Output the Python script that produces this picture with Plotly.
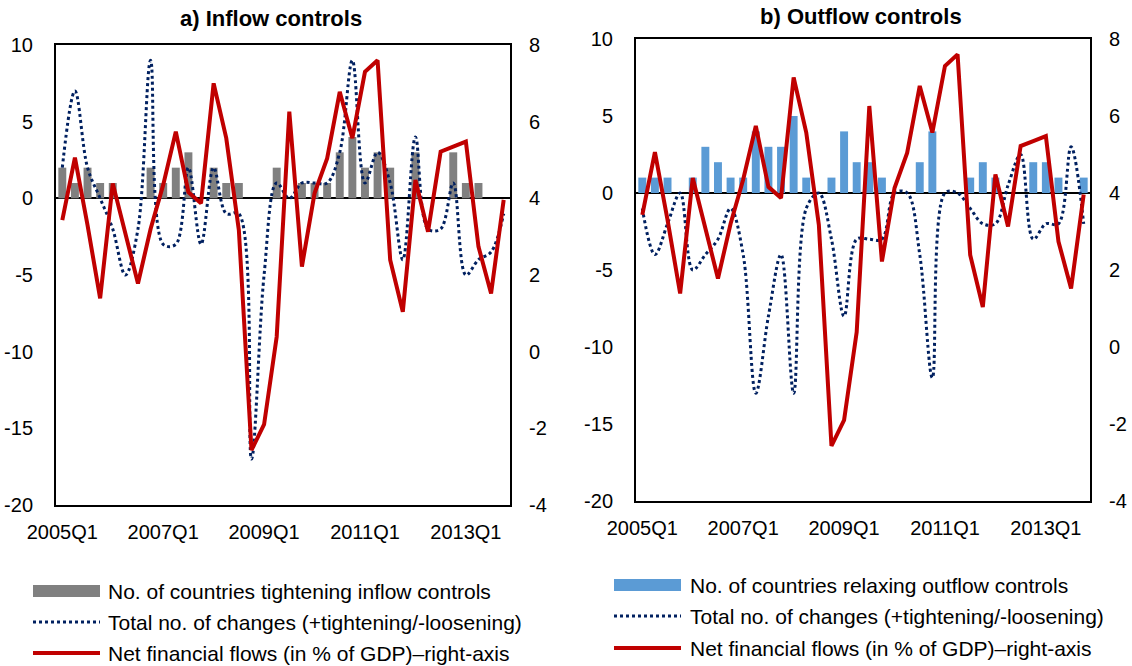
import plotly.graph_objects as go

# ---------------- data ----------------
quarters = [f"{y}Q{q}" for y in range(2005, 2014) for q in range(1, 5)]
tick_labels = ["2005Q1", "2007Q1", "2009Q1", "2011Q1", "2013Q1"]

# a) Inflow controls
inflow_tightening = [2, 1, 2, 1, 1, 0, 0, 2, 1, 2, 3, 0, 2, 1, 1, 0,
                     0, 2, 0, 1, 1, 1, 3, 4, 2, 3, 2, 0, 3, 0, 0, 3,
                     1, 1, 0, 0]
inflow_total_changes = [2, 7, 2, 0, -2, -5, -2, 9, -3, -3, 2, -3, 2, -1, -1, -17,
                        -5, 1, 0, 1, 1, 1, 3, 9, 1, 3, 1, -4, 4, -2, -2, 1,
                        -5, -4, -3.5, -1]

# b) Outflow controls
outflow_relaxing = [1, 1, 1, 0, 1, 3, 2, 1, 1, 4, 3, 3, 5, 1, 0, 1,
                    4, 2, 2, 1, 0, 0, 2, 4, 0, 0, 1, 2, 1, 0, 0, 2,
                    2, 1, 0, 1]
outflow_total_changes = [-1, -4, -2, 0, -5, -4, -3, -1, -4, -13, -8, -4, -13, -1, 0, -3,
                         -8, -3, -3, -3, 0, 0, -4, -12, 0, 0, -1, -2, -2, 0.5, 2.5, -3,
                         -2, -2, 3, -2]

# Net financial flows (% of GDP), right axis (same in both panels)
net_financial_flows = [3.43, 5.06, 3.3, 1.39, 4.39, 3.1, 1.78, 3.2, 4.35, 5.74, 4.16, 3.87,
                       7.0, 5.57, 3.17, -2.57, -1.9, 0.39, 6.26, 2.22, 4.13, 5.04, 6.78, 5.57,
                       7.3, 7.6, 2.39, 1.04, 4.48, 3.13, 5.22, 5.35, 5.48, 2.74, 1.52, 3.96]

left_ticks = [-20, -15, -10, -5, 0, 5, 10]
right_ticks = [-4, -2, 0, 2, 4, 6, 8]

# ---------------- style ----------------
W, H = 1132, 666
GRAY = "#808080"
BLUE = "#5B9BD5"
NAVY = "#002060"
RED = "#C00000"
FONT = "Liberation Sans, Arial, sans-serif"

def px(x):
    return x / W

def py(y):
    return 1 - y / H

fig = go.Figure()

# Left panel
fig.add_trace(go.Bar(x=quarters, y=inflow_tightening, marker_color=GRAY,
                     marker_line_width=0, xaxis="x", yaxis="y"))
fig.add_trace(go.Scatter(x=quarters, y=inflow_total_changes, mode="lines",
                         line=dict(color=NAVY, width=3, dash="dot", shape="spline", smoothing=1),
                         xaxis="x", yaxis="y"))
fig.add_trace(go.Scatter(x=quarters, y=net_financial_flows, mode="lines",
                         line=dict(color=RED, width=4), xaxis="x", yaxis="y2"))

# Right panel
fig.add_trace(go.Bar(x=quarters, y=outflow_relaxing, marker_color=BLUE,
                     marker_line_width=0, xaxis="x2", yaxis="y3"))
fig.add_trace(go.Scatter(x=quarters, y=outflow_total_changes, mode="lines",
                         line=dict(color=NAVY, width=3, dash="dot", shape="spline", smoothing=1),
                         xaxis="x2", yaxis="y3"))
fig.add_trace(go.Scatter(x=quarters, y=net_financial_flows, mode="lines",
                         line=dict(color=RED, width=4), xaxis="x2", yaxis="y4"))

tickfont = dict(family=FONT, size=20, color="black")

def xaxis_cfg(x0, x1, anchor):
    return dict(domain=[px(x0), px(x1)], anchor=anchor, type="category",
                range=[-0.5, 35.5], tickmode="array", tickvals=tick_labels, ticktext=tick_labels,
                showline=True, mirror=True, linecolor="black", linewidth=2,
                ticks="", showgrid=False, zeroline=False, tickfont=tickfont,
                ticklabelstandoff=8, automargin=False, fixedrange=True)

def yleft_cfg(top, bottom, anchor):
    return dict(domain=[py(bottom), py(top)], anchor=anchor, range=[-20, 10],
                tickmode="array", tickvals=left_ticks, ticktext=[str(v) for v in left_ticks],
                showline=True, mirror=True,
                linecolor="black", linewidth=2, ticks="", showgrid=False,
                zeroline=True, zerolinecolor="black", zerolinewidth=2,
                tickfont=tickfont, ticklabelstandoff=17, automargin=False)

def yright_cfg(overlay, anchor):
    return dict(overlaying=overlay, side="right", anchor=anchor, range=[-4, 8],
                tickmode="array", tickvals=right_ticks, ticktext=[str(v) for v in right_ticks],
                showline=False, ticks="",
                showgrid=False, zeroline=False, tickfont=tickfont, ticklabelstandoff=18,
                automargin=False)

fig.update_layout(
    width=W, height=H,
    margin=dict(l=0, r=0, t=0, b=0, autoexpand=False),
    paper_bgcolor="white", plot_bgcolor="white",
    showlegend=False, bargap=0.37,
    font=dict(family=FONT, color="black"),
    xaxis=xaxis_cfg(56, 510, "y"),
    yaxis=yleft_cfg(45, 505, "x"),
    yaxis2=yright_cfg("y", "x"),
    xaxis2=xaxis_cfg(636, 1090, "y3"),
    yaxis3=yleft_cfg(39, 501, "x2"),
    yaxis4=yright_cfg("y3", "x2"),
)

# Titles
fig.add_annotation(x=px(271), y=py(19), xref="paper", yref="paper", showarrow=False,
                   text="<b>a) Inflow controls</b>", font=dict(family=FONT, size=22, color="black"),
                   xanchor="center", yanchor="middle")
fig.add_annotation(x=px(861), y=py(16), xref="paper", yref="paper", showarrow=False,
                   text="<b>b) Outflow controls</b>", font=dict(family=FONT, size=22, color="black"),
                   xanchor="center", yanchor="middle")

# Manual legends
legend_font = dict(family=FONT, size=21, color="black")

def legend_block(x0, x1, xt, rows, bar_color, bar_label, total_label, flow_label):
    r1, r2, r3 = rows
    fig.add_shape(type="rect", xref="paper", yref="paper",
                  x0=px(x0), x1=px(x1), y0=py(r1 + 6), y1=py(r1 - 6),
                  fillcolor=bar_color, line_width=0)
    fig.add_shape(type="line", xref="paper", yref="paper",
                  x0=px(x0), x1=px(x1), y0=py(r2), y1=py(r2),
                  line=dict(color=NAVY, width=3, dash="dot"))
    fig.add_shape(type="line", xref="paper", yref="paper",
                  x0=px(x0), x1=px(x1), y0=py(r3), y1=py(r3),
                  line=dict(color=RED, width=4))
    for r, t in zip(rows, [bar_label, total_label, flow_label]):
        fig.add_annotation(x=px(xt), y=py(r), xref="paper", yref="paper", showarrow=False,
                           text=t, font=legend_font, xanchor="left", yanchor="middle")

legend_block(33, 100, 106, (591, 622, 653), GRAY,
             "No. of countries tightening inflow controls",
             "Total no. of changes (+tightening/-loosening)",
             "Net financial flows (in % of GDP)\u2013right-axis")
legend_block(614, 681, 688, (585, 616, 648), BLUE,
             "No. of countries relaxing outflow controls",
             "Total no. of changes (+tightening/-loosening)",
             "Net financial flows (in % of GDP)\u2013right-axis")

# remove the default page margin so the 1132x666 figure fills the window exactly
fig.write_html("out.html",
               config={"displayModeBar": False, "staticPlot": True},
               post_script="document.body.style.margin='0';document.body.style.overflow='hidden';")
